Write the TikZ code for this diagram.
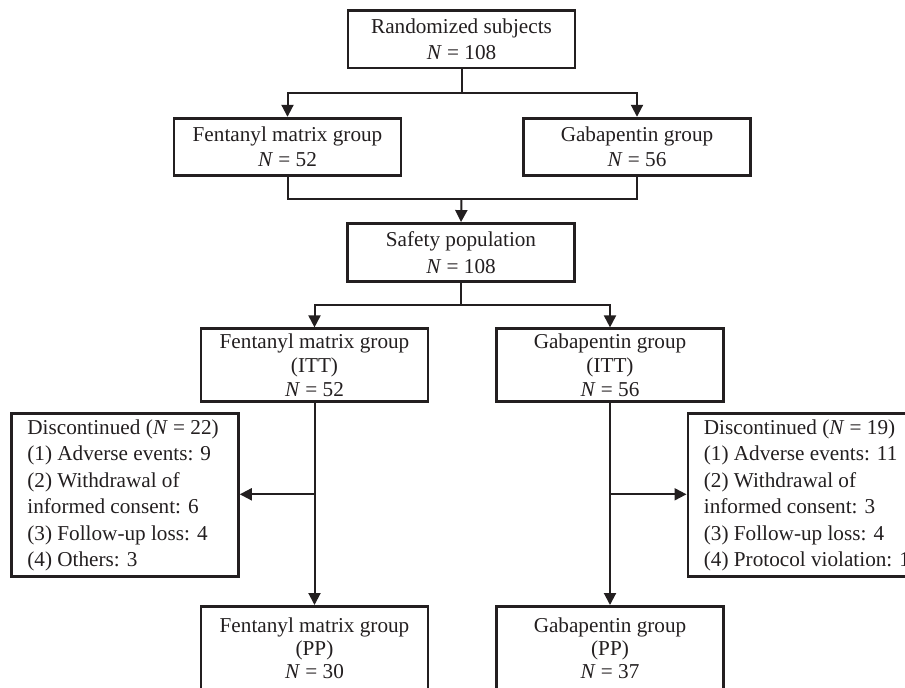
\documentclass[tikz,border=0pt]{standalone}
\usepackage{fontspec}
\setmainfont{Liberation Serif}
\usetikzlibrary{arrows.meta}
\definecolor{ink}{RGB}{35,31,32}
\begin{document}
\begin{tikzpicture}[x=1pt,y=-1pt,
  box/.style={draw=ink, line width=2.8pt, text=ink, align=center, inner sep=0pt, minimum width=227pt},
  f25/.style={font=\fontsize{21.2}{25}\selectfont},
  f26/.style={font=\fontsize{21.2}{26.5}\selectfont},
  f24/.style={font=\fontsize{21.2}{24}\selectfont},
  f23/.style={font=\fontsize{21.2}{23}\selectfont},
  listbox/.style={draw=ink, line width=2.8pt, text=ink, align=left, anchor=west, inner xsep=16pt, inner ysep=0pt, minimum height=163pt, font=\fontsize{21.2}{26.4}\selectfont},
  conn/.style={draw=ink, line width=2pt},
  arr/.style={conn, -{Triangle[length=12pt,width=12pt]}}]
\path[use as bounding box, fill=white] (0,0) rectangle (905,688);

\node[box, f26, minimum height=57.5pt] (top) at (461.5,39.2) {Randomized subjects\\\textit{N} = 108};
\node[box, f25, minimum height=57pt] (fent) at (287.5,146.7) {Fentanyl matrix group\\\textit{N} = 52};
\node[box, f25, minimum height=57pt] (gaba) at (637,146.7) {Gabapentin group\\\textit{N} = 56};
\node[box, f26, minimum height=58pt] (safe) at (461,252.5) {Safety population\\\textit{N} = 108};
\node[box, f24, minimum height=73pt] (itt1) at (314.5,365.3) {Fentanyl matrix group\\(ITT)\\\textit{N} = 52};
\node[box, f24, minimum height=73pt] (itt2) at (610,365.3) {Gabapentin group\\(ITT)\\\textit{N} = 56};
\node[listbox] (disc1) at (10,495.3) {\makebox[195pt][l]{Discontinued (\textit{N} = 22)}\\(1) Adverse events: 9\\(2) Withdrawal of\\informed consent: 6\\(3) Follow-up loss: 4\\(4) Others: 3};
\node[listbox] (disc2) at (686.5,495.3) {Discontinued (\textit{N} = 19)\\(1) Adverse events: 11\\(2) Withdrawal of\\informed consent: 3\\(3) Follow-up loss: 4\\(4) Protocol violation: 1};
\node[box, f23, anchor=north, inner ysep=11pt] (pp1) at (314.5,605) {Fentanyl matrix group\\(PP)\\\textit{N} = 30\rule[-15pt]{0pt}{15pt}};
\node[box, f23, anchor=north, inner ysep=11pt] (pp2) at (610,605) {Gabapentin group\\(PP)\\\textit{N} = 37\rule[-15pt]{0pt}{15pt}};

\coordinate (s1) at (461.5,92.7);
\coordinate (j1) at (461.5,199.3);
\coordinate (s2) at (461,305.3);
\coordinate (b1) at (314.5,494.3);
\coordinate (b2) at (610,494.3);

\draw[conn] (top.south) -- (s1);
\draw[arr] (s1) -| (fent.north);
\draw[arr] (s1) -| (gaba.north);
\draw[conn] (fent.south) |- (j1);
\draw[conn] (gaba.south) |- (j1);
\draw[arr] (j1) -- (safe.north);
\draw[conn] (safe.south) -- (s2);
\draw[arr] (s2) -| (itt1.north);
\draw[arr] (s2) -| (itt2.north);
\draw[arr] (itt1.south) -- (pp1.north);
\draw[arr] (itt2.south) -- (pp2.north);
\draw[arr] (b1) -- (b1 -| disc1.east);
\draw[arr] (b2) -- (b2 -| disc2.west);
\end{tikzpicture}
\end{document}
